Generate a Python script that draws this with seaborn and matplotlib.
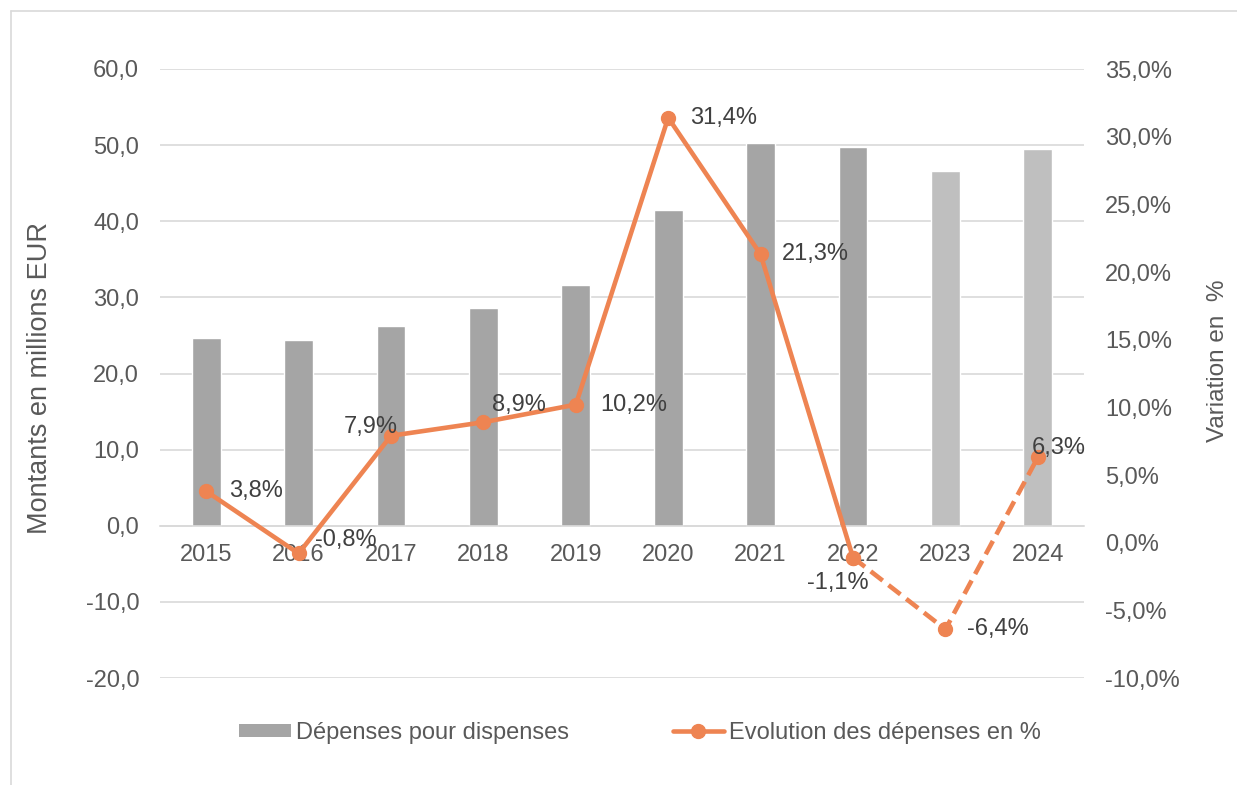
import numpy as np
import matplotlib
matplotlib.use("Agg")
import matplotlib.pyplot as plt
import seaborn as sns
from matplotlib.patches import Patch
from matplotlib.lines import Line2D
from matplotlib.ticker import FuncFormatter, MultipleLocator

# data
years = ["2015", "2016", "2017", "2018", "2019", "2020", "2021", "2022", "2023", "2024"]
depenses = [24.6, 24.4, 26.3, 28.6, 31.6, 41.5, 50.3, 49.8, 46.6, 49.5]
evolution = [3.8, -0.8, 7.9, 8.9, 10.2, 31.4, 21.3, -1.1, -6.4, 6.3]
n_real = 8  # 2015-2022 solid, 2023-2024 projected (dashed / lighter bars)

GREY = "#A5A5A5"
GREY_LIGHT = "#BFBFBF"
ORANGE = "#EE8452"
GRID = "#D9D9D9"
TICK = "#595959"
LABEL = "#404040"

sns.set_style("white")
plt.rcParams["font.family"] = ["Liberation Sans", "DejaVu Sans"]
FS = 17

fig = plt.figure(figsize=(12.37, 7.85), dpi=100)
W, H = 1237, 785
ax = fig.add_axes([160 / W, 1 - 678 / H, (1084 - 160) / W, (678 - 69) / H])

bar_colors = [GREY] * n_real + [GREY_LIGHT] * (len(years) - n_real)
sns.barplot(x=years, y=depenses, hue=years, palette=bar_colors, legend=False,
            width=0.31, saturation=1, ax=ax, zorder=2)

ax.set_ylim(-20, 60)
ax.yaxis.set_major_locator(MultipleLocator(10))
ax.yaxis.set_major_formatter(FuncFormatter(lambda v, _: f"{v:.1f}".replace(".", ",")))
ax.set_axisbelow(True)
ax.grid(axis="y", color=GRID, lw=1.2)
ax.grid(axis="x", visible=False)
for s in ["top", "right", "left"]:
    ax.spines[s].set_visible(False)
ax.spines["bottom"].set_position(("data", 0))
ax.spines["bottom"].set_color(GRID)
ax.spines["bottom"].set_linewidth(1.2)
ax.tick_params(axis="y", length=0, pad=15, labelsize=FS, labelcolor=TICK)
ax.tick_params(axis="x", length=0, pad=13, labelsize=FS, labelcolor=TICK)
ax.set_xlabel("")
ax.set_ylabel("Montants en millions EUR", fontsize=19.5, color=TICK)
ax.yaxis.set_label_coords((53 - 160) / 924, (678 - 378) / 609)

# right axis: evolution in %
ax2 = ax.twinx()
ax2.set_ylim(-10, 35)
ax2.yaxis.set_major_locator(MultipleLocator(5))
ax2.yaxis.set_major_formatter(FuncFormatter(lambda v, _: f"{v:.1f}%".replace(".", ",")))
for s in ax2.spines.values():
    s.set_visible(False)
ax2.tick_params(axis="y", length=0, pad=15, labelsize=FS, labelcolor=TICK)
ax2.set_ylabel("Variation en  %", fontsize=17.5, color=TICK, rotation=90)
ax2.yaxis.set_label_coords((1207 - 160) / 924, (678 - 361) / 609)

idx = np.arange(len(years))
lw = 3.3
ax2.plot(idx[:n_real], evolution[:n_real], color=ORANGE, lw=lw, marker="o",
         ms=10, solid_capstyle="round", zorder=3)
ax2.plot(idx[n_real - 1:], evolution[n_real - 1:], color=ORANGE, lw=lw, marker="o",
         ms=10, linestyle=(0, (3.3, 1.6)), dash_capstyle="butt", zorder=3)
ax.set_xlim(-0.5, len(years) - 0.5)

# label offsets in pixels (dx, dy up), horizontal alignment
offsets = [(23, 0, "left"), (16, 13, "left"), (7, 9, "right"), (9, 17, "left"),
           (24, 0, "left"), (22, 0, "left"), (21, 0, "left"), (-15, -25, "center"),
           (22, 0, "left"), (-6, 9, "left")]
for i, (p, (dx, dy, ha)) in enumerate(zip(evolution, offsets)):
    ax2.annotate(f"{p:.1f}%".replace(".", ","), (i, p), xytext=(dx * 0.72, dy * 0.72),
                 textcoords="offset points", ha=ha, va="center", fontsize=FS,
                 color=LABEL, zorder=4)

handles = [Patch(facecolor=GREY, edgecolor="none"),
           Line2D([0], [0], color=ORANGE, lw=lw, marker="o", ms=10)]
fig.legend(handles, ["Dépenses pour dispenses", "Evolution des dépenses en %"],
           loc="center", bbox_to_anchor=(640 / W, 1 - 733 / H), ncol=2, frameon=False,
           fontsize=FS, labelcolor=TICK, handlelength=2.2, handleheight=0.5,
           handletextpad=0.2, columnspacing=4.4)

# outer frame of the chart area
fig.add_artist(Line2D([11 / W, 11 / W], [0, 1 - 11 / H], transform=fig.transFigure,
                      color=GRID, lw=1.2))
fig.add_artist(Line2D([11 / W, 1], [1 - 11 / H, 1 - 11 / H], transform=fig.transFigure,
                      color=GRID, lw=1.2))

fig.savefig("out.png", dpi=100)
